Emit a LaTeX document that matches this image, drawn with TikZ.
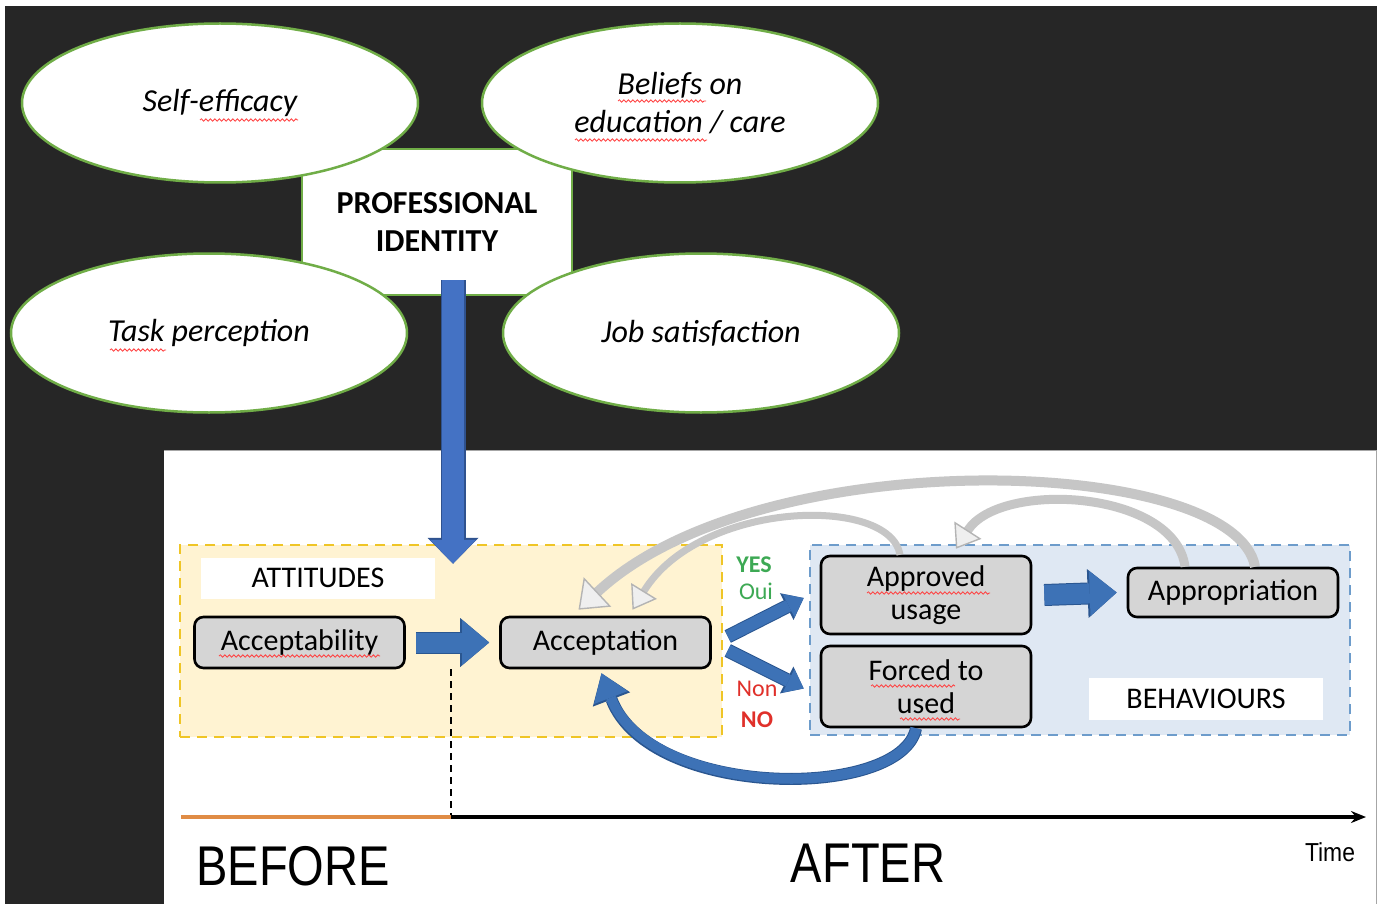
\documentclass[tikz,border=0pt]{standalone}
\usepackage{fontspec}
\setmainfont{Carlito}
\newfontfamily\arialfont{Liberation Sans}
\usetikzlibrary{shapes.geometric,arrows.meta,decorations.pathmorphing}
\definecolor{bgdark}{HTML}{262626}
\definecolor{ellgreen}{HTML}{70AD47}
\definecolor{topblue}{HTML}{4472C4}
\definecolor{topedge}{HTML}{2F528F}
\definecolor{arrowblue}{HTML}{3D72B6}
\definecolor{arrowedge}{HTML}{2A5690}
\definecolor{yelfill}{HTML}{FFF3D2}
\definecolor{yeldash}{HTML}{EFC526}
\definecolor{bluefill}{HTML}{DFE8F3}
\definecolor{bluedash}{HTML}{6D9CCB}
\definecolor{boxgray}{HTML}{D5D5D5}
\definecolor{arcgray}{HTML}{C6C6C6}
\definecolor{arcfill}{HTML}{EFEFEF}
\definecolor{arcedge}{HTML}{B4B4B4}
\definecolor{yesgreen}{HTML}{3DA954}
\definecolor{nored}{HTML}{E0302A}
\definecolor{tlorange}{HTML}{E08C45}
\tikzset{
  ell/.style={ellipse, draw=ellgreen, line width=2.5pt, fill=white, minimum width=396pt,
    minimum height=159pt, inner sep=0pt, align=center, font=\fontsize{32}{38}\selectfont\itshape},
  pibox/.style={rectangle, draw=ellgreen, line width=2.5pt, fill=white, minimum width=270pt,
    minimum height=146pt, align=center, font=\fontsize{32}{38}\selectfont\bfseries},
  zone/.style={rectangle, line width=2.5pt, dash pattern=on 10pt off 7pt, inner sep=0pt},
  lbl/.style={rectangle, fill=white, inner sep=0pt, font=\fontsize{30}{36}\selectfont},
  gbox/.style={rectangle, rounded corners=9pt, draw=black, line width=2.6pt, fill=boxgray,
    inner sep=0pt, minimum width=210pt, align=center, font=\fontsize{30}{33}\selectfont},
  blockV/.style={draw=topblue, line width=22pt, -{Triangle[length=24pt,width=46pt,line width=0pt]},
    preaction={draw=topedge, line width=25pt, -{Triangle[length=26pt,width=51pt,line width=0pt]}}},
  blockH/.style={draw=arrowblue, line width=20pt, -{Triangle[length=27pt,width=45pt,line width=0pt]},
    preaction={draw=arrowedge, line width=22pt, -{Triangle[length=29pt,width=49pt,line width=0pt]}}},
  blockD/.style={draw=arrowblue, line width=12pt, -{Triangle[length=17pt,width=26pt,line width=0pt]},
    preaction={draw=arrowedge, line width=14pt, -{Triangle[length=19pt,width=30pt,line width=0pt]}}},
  blockC/.style={draw=arrowblue, line width=10pt, -{Triangle[length=26pt,width=36pt,line width=0pt]},
    preaction={draw=arrowedge, line width=12pt, -{Triangle[length=28pt,width=40pt,line width=0pt]}}},
  grayarc/.style n args={3}{draw=arcgray, line width=#1, -{Triangle[length=#2,width=#3,fill=arcfill,color=arcedge,line width=1.4pt]}},
  squig/.style={draw=red!75, line width=0.8pt, decorate, decoration={snake, amplitude=1.2pt, segment length=4.5pt}},
  yn/.style={inner sep=0pt, font=\fontsize{24}{26}\selectfont},
}
\begin{document}
\begin{tikzpicture}[x=1pt,y=-1pt]
\useasboundingbox (0,0) rectangle (1380,904);
% backgrounds
\fill[white] (0,0) rectangle (1380,904);
\fill[bgdark] (5,6) rectangle (1377,904);
\fill[white] (164,450) rectangle (1377,904);
\draw[gray!70, line width=1pt] (164,450) -- (1376.5,450) -- (1376.5,904);

% professional identity and its four facets
\node[pibox] (pi) at (437,222) {PROFESSIONAL\\IDENTITY};
\node[ell] (se) at (220,103) {Self-efficacy};
\node[ell] (bel) at (680,103) {Beliefs on\\education / care};
\node[ell] (task) at (209,333) {Task perception};
\node[ell] (job) at (701,333) {Job satisfaction};

% zones
\node[zone, draw=yeldash, fill=yelfill, minimum width=542pt, minimum height=192pt] (attzone) at (451,641) {};
\node[zone, draw=bluedash, fill=bluefill, minimum width=540pt, minimum height=190pt] (behzone) at (1080,640) {};

% arrow from identity into attitudes
\draw[blockV] ([xshift=16pt,yshift=16pt]pi.south) -- ([xshift=2pt,yshift=-20pt]attzone.north);

% labels
\node[lbl, minimum width=234pt, minimum height=41pt] (att) at (318,578) {ATTITUDES};
\node[lbl, minimum width=234pt, minimum height=42pt] (beh) at (1206,699) {BEHAVIOURS};

% boxes
\node[gbox, minimum height=51pt] (acc) at (299.5,642.5) {Acceptability};
\node[gbox, minimum height=51pt] (acpt) at (605.5,642.5) {Acceptation};
\node[gbox, minimum height=78pt] (appr) at (926,595) {Approved\\usage};
\node[gbox, minimum height=81pt] (forc) at (926,686.5) {Forced to\\used};
\node[gbox, minimum height=49pt] (appro) at (1233,592.5) {Appropriation};

% yes / no labels
\node[yn, text=yesgreen, font=\fontsize{24}{26}\selectfont\bfseries] (yes) at (754,565) {YES};
\node[yn, text=yesgreen] (oui) at (756,591) {Oui};
\node[yn, text=nored] (non) at (757,689) {Non};
\node[yn, text=nored, font=\fontsize{24}{26}\selectfont\bfseries] (no) at (757,720) {NO};

% blue block arrows
\draw[blockH] ([xshift=10pt]acc.east) -- ([xshift=-10pt]acpt.west);
\draw[blockH] ([xshift=12pt]appr.east) -- ([xshift=-10pt]appro.west);
\draw[blockD] ([xshift=16pt,yshift=6pt]acpt.east) -- ([xshift=-16pt,yshift=-3pt]appr.west);
\draw[blockD] ([xshift=16pt,yshift=-8pt]acpt.east) -- ([xshift=-16pt,yshift=-2pt]forc.west);
\draw[blockC] ([xshift=-10pt]forc.south) .. controls (902,800) and (650,800) .. ([xshift=-4pt,yshift=-4pt]acpt.south);

% grey feedback arcs
\draw[grayarc={10pt}{26pt}{40pt}] ([xshift=22pt]appro.north) .. controls (1235,455) and (760,440) .. ([xshift=-27pt,yshift=6pt]acpt.north);
\draw[grayarc={9pt}{22pt}{32pt}] ([xshift=-48pt]appro.north) .. controls (1175,490) and (1000,480) .. ([xshift=30pt,yshift=6pt]appr.north);
\draw[grayarc={7pt}{22pt}{30pt}] ([xshift=-26pt]appr.north) .. controls (890,495) and (700,500) .. ([xshift=27pt,yshift=6pt]acpt.north);

% spell-check squiggles
\draw[squig] (200,120) -- (298,120);
\draw[squig] (618,101) -- (706,101);
\draw[squig] (575,140) -- (707,140);
\draw[squig] (110,350) -- (166,350);
\draw[squig] (219,656) -- (380,656);
\draw[squig] (867,593) -- (990,593);
\draw[squig] (871,686) -- (955,686);
\draw[squig] (900,719) -- (960,719);

% timeline
\coordinate (t0) at (181,817);
\coordinate (split) at (451,817);
\coordinate (t1) at (1366,817);
\draw[black, line width=1.8pt, dash pattern=on 7pt off 5pt] (split |- acc.south) -- (split);
\draw[tlorange, line width=4pt] (t0) -- (split);
\draw[black, line width=3.6pt, -{Stealth[length=15pt,width=12pt]}] (split) -- (t1);

\node[inner sep=0pt] (before) at (293,866) {\arialfont\fontsize{56}{60}\selectfont\scalebox{0.84}[1]{BEFORE}};
\node[inner sep=0pt] (after) at (868,863) {\arialfont\fontsize{56}{60}\selectfont\scalebox{0.84}[1]{AFTER}};
\node[inner sep=0pt] (time) at (1330,852) {\arialfont\fontsize{26}{28}\selectfont\scalebox{0.88}[1]{Time}};
\end{tikzpicture}
\end{document}
